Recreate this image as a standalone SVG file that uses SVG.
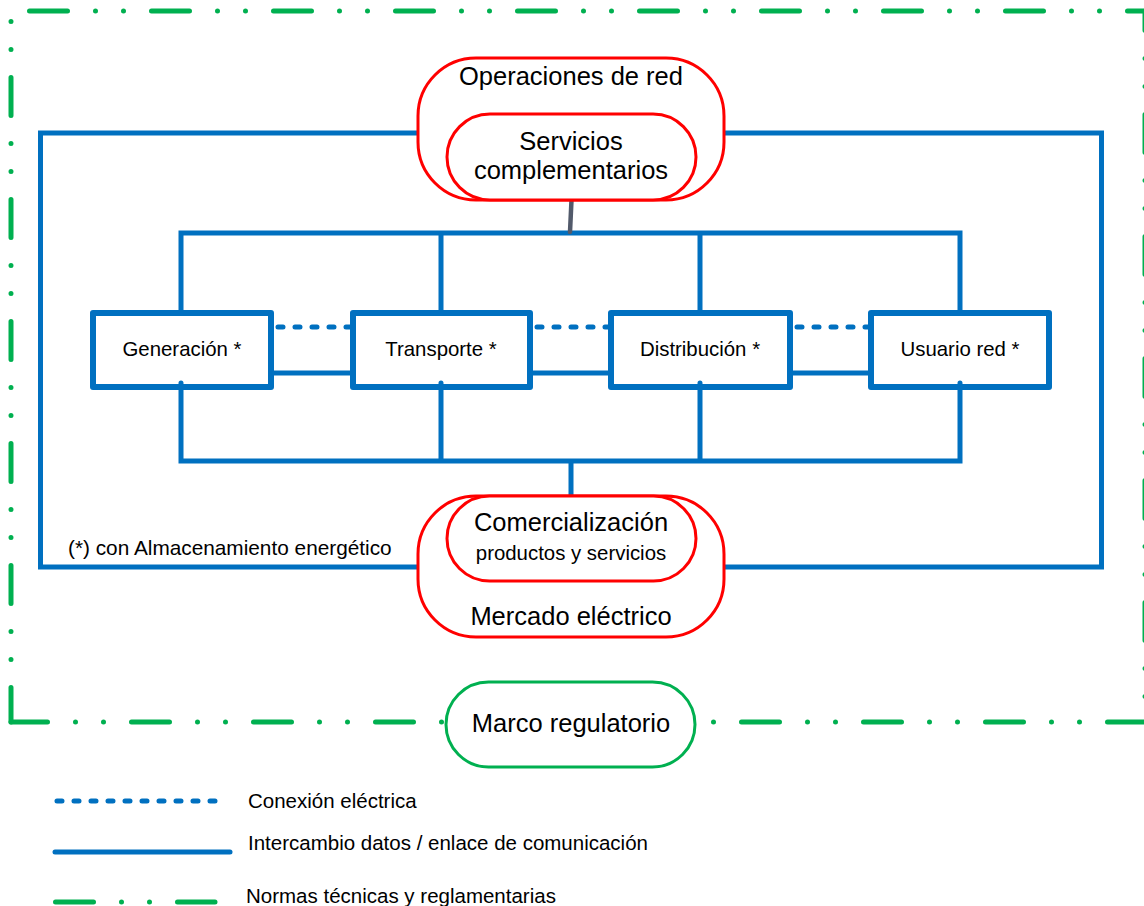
<svg xmlns="http://www.w3.org/2000/svg" width="1144" height="906" viewBox="0 0 1144 906">
  <style>
    text { font-family: "Liberation Sans", Arial, sans-serif; fill: #000; }
    .big { font-size: 25.5px; text-anchor: middle; }
    .mid { font-size: 20.4px; text-anchor: middle; }
    .note { font-size: 20.8px; }
    .leg { font-size: 20.5px; }
    .norma { fill: none; stroke: #00b050; stroke-width: 5; stroke-linecap: round; stroke-dasharray: 38 28 0 28 0 28; }
    .data { fill: none; stroke: #0070c0; stroke-width: 5; stroke-linecap: round; stroke-linejoin: miter; }
    .elec { fill: none; stroke: #0070c0; stroke-width: 5; stroke-linecap: round; stroke-dasharray: 5 12; }
    .agent { fill: #fff; stroke: #0070c0; stroke-width: 6; stroke-linejoin: round; }
    .market { fill: #fff; stroke: #ff0000; stroke-width: 3; }
    .reg { fill: #fff; stroke: #00b050; stroke-width: 3; }
  </style>

  <!-- regulatory frame (dash-dot-dot border) -->
  <g id="marco-frontera">
    <line class="norma" x1="11" y1="11" x2="1145" y2="11" stroke-dashoffset="103.5"/>
    <line class="norma" x1="1145" y1="11" x2="1145" y2="722" stroke-dashoffset="18.5"/>
    <line class="norma" x1="1145" y1="722" x2="11" y2="722" stroke-dashoffset="0.5"/>
    <line class="norma" x1="11" y1="11" x2="11" y2="722" stroke-dashoffset="55.5"/>
  </g>

  <!-- network agents -->
  <g id="generacion">
    <rect class="agent" x="93" y="313" width="178" height="74"/>
    <text class="mid" x="182" y="356">Generación *</text>
  </g>
  <g id="transporte">
    <rect class="agent" x="353" y="313" width="177" height="74"/>
    <text class="mid" x="441" y="356">Transporte *</text>
  </g>
  <g id="distribucion">
    <rect class="agent" x="611" y="313" width="179" height="74"/>
    <text class="mid" x="700" y="356">Distribución *</text>
  </g>
  <g id="usuario">
    <rect class="agent" x="871" y="313" width="178" height="74"/>
    <text class="mid" x="960" y="356">Usuario red *</text>
  </g>

  <!-- connectors -->
  <g id="conectores">
    <!-- outer data loop between network operations and market -->
    <rect class="data" x="40.5" y="133" width="1061" height="434"/>
    <!-- upper data bus -->
    <path class="data" d="M181 313 V233 H960 V313 M441 233 V313 M700 233 V313"/>
    <!-- lower data bus -->
    <path class="data" d="M181 383 V461 H960 V383 M441 383 V461 M700 383 V461 M571 461 V497"/>
    <!-- data links between neighbouring agents -->
    <line class="data" x1="274" y1="373" x2="350" y2="373"/>
    <line class="data" x1="533" y1="373" x2="608" y2="373"/>
    <line class="data" x1="793" y1="373" x2="868" y2="373"/>
    <!-- electrical links -->
    <line class="elec" x1="278" y1="327" x2="350" y2="327"/>
    <line class="elec" x1="537" y1="327" x2="608" y2="327"/>
    <line class="elec" x1="797" y1="327" x2="868" y2="327"/>
    <!-- ancillary services to upper bus -->
    <line x1="571.5" y1="200" x2="570" y2="232" stroke="#525a6b" stroke-width="4.5" stroke-linecap="round"/>
  </g>

  <g id="operaciones-red">
    <rect class="market" x="418" y="58" width="306" height="142" rx="58" ry="58"/>
    <text class="big" x="571" y="85">Operaciones de red</text>
  </g>
  <g id="servicios-complementarios">
    <rect class="market" x="447" y="114" width="249" height="86" rx="43" ry="43"/>
    <text class="big" x="571" y="150">Servicios</text>
    <text class="big" x="571" y="179">complementarios</text>
  </g>

  <g id="mercado-electrico">
    <rect class="market" x="418" y="496" width="306" height="141" rx="58" ry="58"/>
    <text class="big" x="571" y="625">Mercado eléctrico</text>
  </g>
  <g id="comercializacion">
    <rect class="market" x="447" y="496" width="249" height="85" rx="42.5" ry="42.5"/>
    <text class="big" x="571" y="531">Comercialización</text>
    <text class="mid" x="571" y="560">productos y servicios</text>
  </g>

  <g id="nota">
    <text class="note" x="68" y="555">(*) con Almacenamiento energético</text>
  </g>

  <g id="marco-regulatorio">
    <rect class="reg" x="446" y="682" width="249" height="85" rx="42.5" ry="42.5"/>
    <text class="big" x="571" y="732">Marco regulatorio</text>
  </g>

  <!-- legend -->
  <g id="leyenda">
    <line class="elec" x1="57" y1="801" x2="225" y2="801" stroke-dasharray="5 11.8"/>
    <text class="leg" x="248" y="808">Conexión eléctrica</text>
    <line class="data" x1="55" y1="852" x2="230" y2="852"/>
    <text class="leg" x="248" y="850">Intercambio datos / enlace de comunicación</text>
    <line class="norma" x1="55.5" y1="902" x2="215" y2="902" stroke-dasharray="38 28 0 28 0 28"/>
    <text class="leg" x="246" y="903">Normas técnicas y reglamentarias</text>
  </g>
</svg>
